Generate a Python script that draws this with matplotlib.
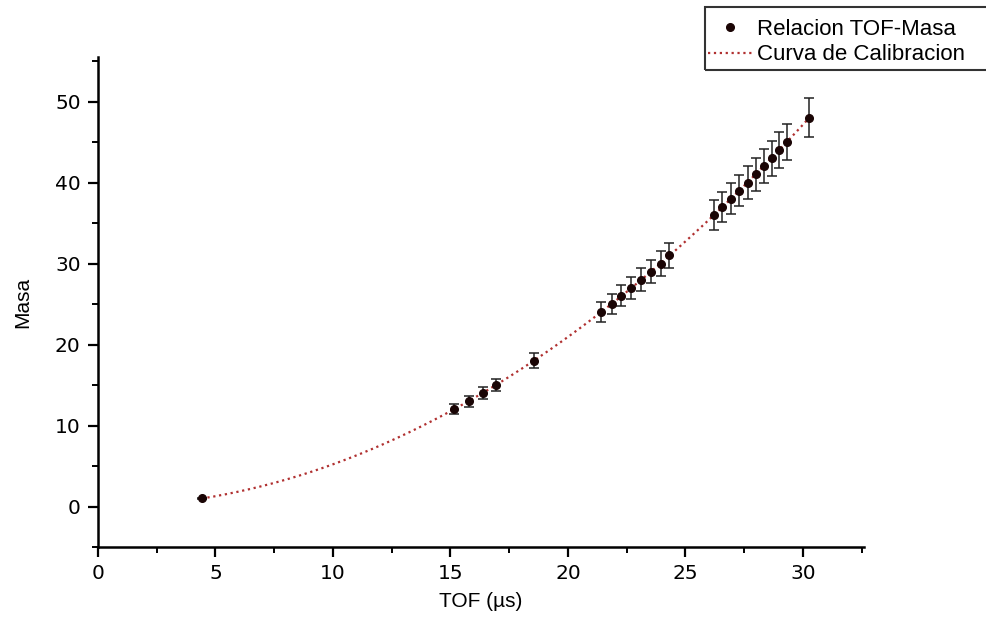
import matplotlib
matplotlib.use("Agg")
import matplotlib.pyplot as plt
import numpy as np
from matplotlib.lines import Line2D
from matplotlib.patches import Rectangle
from matplotlib.ticker import MultipleLocator

# data
tof = [4.41, 15.17, 15.77, 16.38, 16.94, 18.54,
       21.40, 21.86, 22.28, 22.69, 23.10, 23.53, 23.96, 24.31,
       26.22, 26.57, 26.94, 27.30, 27.65, 28.00, 28.33, 28.67, 28.98, 29.31,
       30.26]
masa = [1, 12, 13, 14, 15, 18,
        24, 25, 26, 27, 28, 29, 30, 31,
        36, 37, 38, 39, 40, 41, 42, 43, 44, 45,
        48]
err_frac = 0.05

plt.rcParams['font.family'] = ['Liberation Sans', 'DejaVu Sans']

tof = np.array(tof)
masa = np.array(masa, dtype=float)
err = masa * err_frac

# calibration curve = quadratic fit of the points
coef = np.polyfit(tof, masa, 2)
t_fit = np.linspace(tof.min(), tof.max(), 200)
m_fit = np.polyval(coef, t_fit)

W, H = 987, 620
fig = plt.figure(figsize=(W / 100, H / 100), dpi=100)
ax = fig.add_axes([0.0993, 0.1177, 0.7760, 0.7903])

pt_color = '#1a0505'
fit_color = '#b03030'
ax.plot(t_fit, m_fit, linestyle=':', color=fit_color, linewidth=1.6, zorder=2)
ax.errorbar(tof, masa, yerr=err, fmt='o', color=pt_color, markersize=5.5,
            ecolor='#222222', elinewidth=1.1, capsize=3.5, capthick=1.1, zorder=3)

ax.set_xlim(0, 32.6)
ax.set_ylim(-5, 55.5)
ax.xaxis.set_major_locator(MultipleLocator(5))
ax.xaxis.set_minor_locator(MultipleLocator(2.5))
ax.yaxis.set_major_locator(MultipleLocator(10))
ax.yaxis.set_minor_locator(MultipleLocator(5))

for s in ['top', 'right']:
    ax.spines[s].set_visible(False)
for s in ['left', 'bottom']:
    ax.spines[s].set_linewidth(1.8)
ax.tick_params(which='major', direction='out', length=7.5, width=1.6, pad=5,
               labelsize=14.5, labelfontfamily='DejaVu Sans')
ax.tick_params(which='minor', direction='out', length=4.5, width=1.4)

ax.set_xlabel('TOF (µs)', fontsize=15, labelpad=6)
ax.set_ylabel('Masa', fontsize=15, labelpad=16)

# legend box runs off the right edge of the picture
fig.patches.append(Rectangle((705 / W, 1 - 70 / H), 300 / W, 63 / H,
                             transform=fig.transFigure, fill=False,
                             edgecolor='#333333', linewidth=1.5))
handles = [Line2D([], [], marker='o', linestyle='none', color=pt_color, markersize=5.5),
           Line2D([], [], linestyle=':', color=fit_color, linewidth=1.6)]
leg = fig.legend(handles, ['Relacion TOF-Masa', 'Curva de Calibracion'],
                 loc='upper left', bbox_to_anchor=(708 / W, 1 - 19 / H), fontsize=16,
                 frameon=False, handlelength=2.0, borderpad=0, labelspacing=0.2,
                 handletextpad=0.2, borderaxespad=0)

fig.savefig('out.png', dpi=100)
